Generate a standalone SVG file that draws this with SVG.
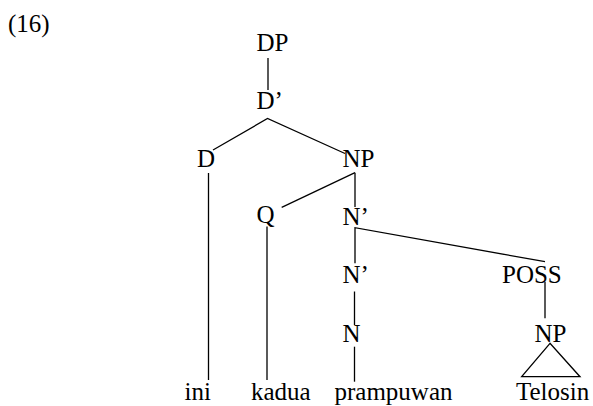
<svg xmlns="http://www.w3.org/2000/svg" width="593" height="406" viewBox="0 0 593 406">
<rect width="593" height="406" fill="#fff"/>
<text x="8" y="31.5" font-family="Liberation Serif" style="font-family:'Liberation Serif','Times New Roman',serif !important;font-size:25px">(16)</text>
<g id="DP"><text x="256.5" y="50.5" font-family="Liberation Serif" style="font-family:'Liberation Serif','Times New Roman',serif !important;font-size:25px">DP</text></g>
<g id="Dbar"><text x="256.5" y="108.5" font-family="Liberation Serif" style="font-family:'Liberation Serif','Times New Roman',serif !important;font-size:25px">D&#8217;</text></g>
<g id="D"><text x="197" y="166.7" font-family="Liberation Serif" style="font-family:'Liberation Serif','Times New Roman',serif !important;font-size:25px">D</text></g>
<g id="NP"><text x="342.5" y="166.7" font-family="Liberation Serif" style="font-family:'Liberation Serif','Times New Roman',serif !important;font-size:25px">NP</text></g>
<g id="Q"><text x="256.5" y="223" font-family="Liberation Serif" style="font-family:'Liberation Serif','Times New Roman',serif !important;font-size:25px">Q</text></g>
<g id="Nbar1"><text x="342.5" y="225" font-family="Liberation Serif" style="font-family:'Liberation Serif','Times New Roman',serif !important;font-size:25px">N&#8217;</text></g>
<g id="Nbar2"><text x="342.5" y="283.3" font-family="Liberation Serif" style="font-family:'Liberation Serif','Times New Roman',serif !important;font-size:25px">N&#8217;</text></g>
<g id="N"><text x="342.5" y="341.7" font-family="Liberation Serif" style="font-family:'Liberation Serif','Times New Roman',serif !important;font-size:25px">N</text></g>
<g id="POSS"><text x="502" y="283.3" font-family="Liberation Serif" style="font-family:'Liberation Serif','Times New Roman',serif !important;font-size:25px">POSS</text></g>
<g id="NP2"><text x="534.5" y="341.7" font-family="Liberation Serif" style="font-family:'Liberation Serif','Times New Roman',serif !important;font-size:25px">NP</text></g>
<g id="ini"><text x="184.5" y="400" font-family="Liberation Serif" style="font-family:'Liberation Serif','Times New Roman',serif !important;font-size:25px">ini</text></g>
<g id="kadua"><text x="251" y="400" font-family="Liberation Serif" style="font-family:'Liberation Serif','Times New Roman',serif !important;font-size:25px">kadua</text></g>
<g id="prampuwan"><text x="334.5" y="400" font-family="Liberation Serif" style="font-family:'Liberation Serif','Times New Roman',serif !important;font-size:25px">prampuwan</text></g>
<g id="Telosin"><text x="516" y="400" font-family="Liberation Serif" style="font-family:'Liberation Serif','Times New Roman',serif !important;font-size:25px">Telosin</text></g>
<g id="connectors" stroke="#000" stroke-width="1.3" fill="none">
<line x1="268" y1="58" x2="268" y2="90"/>
<polyline points="213,150 267.5,118.5 345,153.5"/>
<line x1="208.5" y1="173" x2="208.5" y2="380"/>
<line x1="281.7" y1="207.3" x2="355" y2="172.7"/>
<line x1="355" y1="172.7" x2="355" y2="207"/>
<line x1="267" y1="226.5" x2="267" y2="380"/>
<polyline points="355,263.3 355,227.7 545,261.7"/>
<line x1="354.5" y1="291.5" x2="354.5" y2="325"/>
<line x1="354.5" y1="346.7" x2="354.5" y2="381.7"/>
<line x1="545" y1="281.7" x2="545" y2="318.3"/>
<polygon points="550,343.3 521.7,376.7 580,376.7"/>
</g>
</svg>
